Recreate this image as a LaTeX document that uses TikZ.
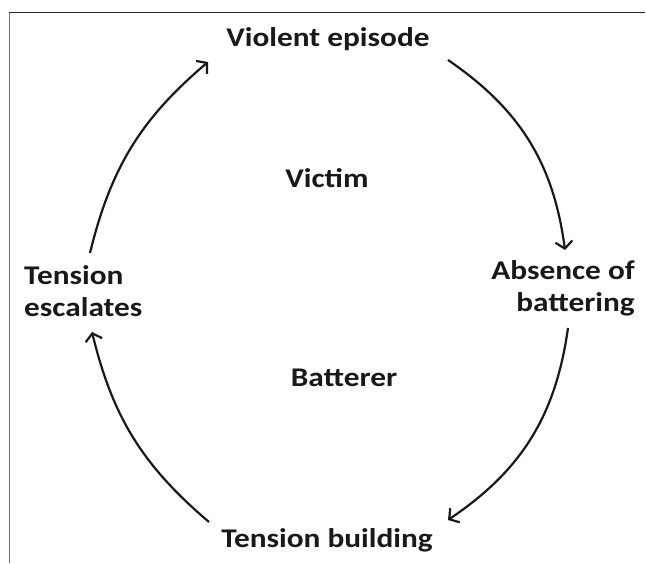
\documentclass[tikz,border=0pt]{standalone}
\usepackage{fontspec}
\setmainfont{Carlito}
\newfontfamily\phasefont{Carlito Bold}[FakeStretch=1.16]
\usetikzlibrary{arrows.meta}

\tikzset{
  phase/.style={font=\phasefont\fontsize{27}{32}\selectfont, text=black!90, inner sep=0pt},
  cyclearrow/.style={line width=2.2pt, draw=black!90, -{Straight Barb[length=7pt, width=17pt, line width=2.2pt]}}
}

\begin{document}
\begin{tikzpicture}[x=1pt, y=1pt]
  \useasboundingbox (0,0) rectangle (646,563);
  % frame
  \draw[black!85, line width=1pt] (9,550) -- (645,550);
  \draw[black!55, line width=1pt] (9,550) -- (9,0);

  % labels
  \node[phase, anchor=base] (violent) at (328,516) {Violent episode};
  \node[phase, anchor=base] (victim) at (327,375) {Victim};
  \node[phase, anchor=base] (batterer) at (344,176) {Batterer};
  \node[phase, anchor=base] (building) at (327,16) {Tension building};
  \node[phase, anchor=base west, align=left] (escalates) at (24,246) {Tension\\escalates};
  \node[phase, anchor=base east, align=right] (absence) at (635,251) {Absence of\\battering};

  % ends of the arrows
  \coordinate (esc-out) at (90,310);
  \coordinate (vio-in) at (208,501);
  \coordinate (vio-out) at (448,503);
  \coordinate (abs-in) at (565,313);
  \coordinate (abs-out) at (568,235);
  \coordinate (bui-in) at (448,43);
  \coordinate (bui-out) at (209,41);
  \coordinate (esc-in) at (92,231);

  \draw[cyclearrow] (esc-out) to[bend left=18] (vio-in);
  \draw[cyclearrow] (vio-out) to[bend left=24] (abs-in);
  \draw[cyclearrow] (abs-out) to[bend left=24] (bui-in);
  \draw[cyclearrow] (bui-out) to[bend left=18] (esc-in);
\end{tikzpicture}
\end{document}
